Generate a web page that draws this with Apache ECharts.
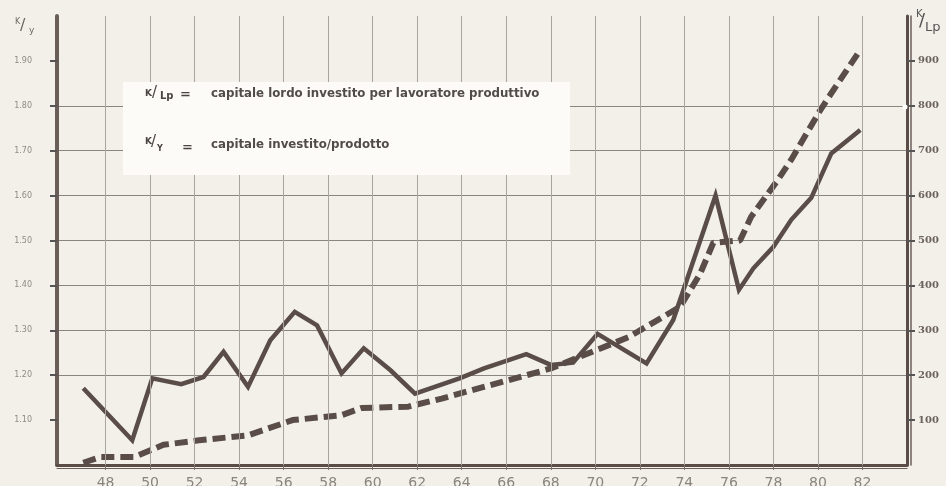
<!DOCTYPE html>
<html><head><meta charset="utf-8">
<script src="https://cdn.jsdelivr.net/npm/echarts@6/dist/echarts.min.js"></script>
<style>html,body{margin:0;padding:0;background:#f3f0ea}#c{width:946px;height:486px}</style>
</head><body><div id="c"></div>
<script>
const kyYears  = [47.0,49.2,50.1,51.4,52.4,53.3,54.4,55.4,56.5,57.5,58.6,59.6,60.8,61.9,63.9,65.0,66.9,68.0,69.0,70.1,72.3,73.5,75.4,76.45,77.1,78.0,78.8,79.7,80.6,81.9];
const kyValues = [1.171,1.055,1.193,1.180,1.196,1.252,1.174,1.278,1.341,1.311,1.204,1.260,1.211,1.159,1.193,1.215,1.247,1.223,1.228,1.292,1.226,1.323,1.600,1.390,1.438,1.486,1.546,1.595,1.694,1.746];
const klpYears  = [47.0,47.8,49.3,50.6,52.2,54.4,56.4,58.6,59.5,61.6,63.1,68.0,70.0,71.5,73.8,74.7,75.3,76.5,77.0,78.2,78.8,80.1,80.6,81.8];
const klpValues = [5,18,18,45,55,66,100,111,127,130,148,215,255,285,352,425,495,500,553,635,680,790,828,917];
const xTicks   = [48,50,52,54,56,58,60,62,64,66,68,70,72,74,76,78,80,82];
const kyTicks  = [1.1,1.2,1.3,1.4,1.5,1.6,1.7,1.8,1.9];
const klpTicks = [100,200,300,400,500,600,700,800,900];
const legendLines = [
  ['K','/','Lp','capitale lordo investito per lavoratore produttivo'],
  ['K','/','Y','capitale investito/prodotto']
];

const ink = '#5a4d48';
const chart = echarts.init(document.getElementById('c'));
const zip = (a,b) => a.map((v,i)=>[v,b[i]]);
const txt = '#4a4542';

const graphics = [
  {type:'rect', z:100, shape:{x:123,y:82,width:447,height:93}, style:{fill:'#fcfbf8'}},
  // legend line 1
  {type:'text', z:101, style:{x:145,y:94,text:legendLines[0][0],fontSize:9,fontFamily:'DejaVu Sans',fontWeight:'bold',fill:txt,verticalAlign:'middle'}},
  {type:'text', z:101, style:{x:152,y:93,text:legendLines[0][1],fontSize:15,fontFamily:'DejaVu Sans',fill:txt,verticalAlign:'middle'}},
  {type:'text', z:101, style:{x:160,y:96,text:legendLines[0][2],fontSize:10,fontFamily:'DejaVu Sans',fontWeight:'bold',fill:txt,verticalAlign:'middle'}},
  {type:'text', z:101, style:{x:180,y:95,text:'=',fontSize:13,fontFamily:'DejaVu Sans',fontWeight:'bold',fill:txt,verticalAlign:'middle'}},
  {type:'text', z:101, style:{x:211,y:94,text:legendLines[0][3],fontSize:11.8,fontFamily:'DejaVu Sans',fontWeight:'bold',fill:'#524c49',verticalAlign:'middle'}},
  // legend line 2
  {type:'text', z:101, style:{x:145,y:142,text:legendLines[1][0],fontSize:9,fontFamily:'DejaVu Sans',fontWeight:'bold',fill:txt,verticalAlign:'middle'}},
  {type:'text', z:101, style:{x:151,y:142,text:legendLines[1][1],fontSize:15,fontFamily:'DejaVu Sans',fill:txt,verticalAlign:'middle'}},
  {type:'text', z:101, style:{x:157,y:149,text:legendLines[1][2],fontSize:8,fontFamily:'DejaVu Sans',fontWeight:'bold',fill:txt,verticalAlign:'middle'}},
  {type:'text', z:101, style:{x:182,y:148,text:'=',fontSize:13,fontFamily:'DejaVu Sans',fontWeight:'bold',fill:txt,verticalAlign:'middle'}},
  {type:'text', z:101, style:{x:211,y:145,text:legendLines[1][3],fontSize:11.8,fontFamily:'DejaVu Sans',fontWeight:'bold',fill:'#524c49',verticalAlign:'middle'}},
  // axis names
  {type:'text', z:101, style:{x:15,y:22,text:'K',fontSize:8,fontFamily:'DejaVu Sans',fill:'#6e6864',verticalAlign:'middle'}},
  {type:'text', z:101, style:{x:20,y:26,text:'/',fontSize:16,fontFamily:'DejaVu Sans',fill:'#6e6864',verticalAlign:'middle'}},
  {type:'text', z:101, style:{x:29,y:31,text:'y',fontSize:9,fontFamily:'DejaVu Sans',fill:'#6e6864',verticalAlign:'middle'}},
  {type:'text', z:101, style:{x:916,y:14,text:'K',fontSize:10,fontFamily:'DejaVu Sans',fill:'#555',verticalAlign:'middle'}},
  {type:'text', z:101, style:{x:919,y:21,text:'/',fontSize:18,fontFamily:'DejaVu Sans',fill:'#555',verticalAlign:'middle'}},
  {type:'text', z:101, style:{x:925,y:28,text:'Lp',fontSize:13,fontFamily:'DejaVu Sans',fill:'#555',verticalAlign:'middle'}},
  {type:'circle', z:101, shape:{cx:905,cy:107,r:2.5}, style:{fill:'#ffffff'}}
];

chart.setOption({
  animation:false,
  backgroundColor:'#f3f0ea',
  grid:{left:57,right:39,top:16,bottom:21,outerBoundsMode:'none',containLabel:false},
  xAxis:[
    {type:'value',min:45.82,max:84,
     axisLine:{show:true,onZero:false,lineStyle:{color:ink,width:3}},
     axisTick:{show:true,customValues:xTicks,length:5,lineStyle:{color:'#7a736e',width:1}},
     axisLabel:{customValues:xTicks,color:'#8a847f',fontSize:14,fontFamily:'DejaVu Sans',margin:11},
     splitLine:{show:false}},
    {type:'value',min:45.82,max:84,position:'bottom',offset:3,
     axisLine:{show:true,onZero:false,lineStyle:{color:'#6a5f5a',width:1}},
     axisTick:{show:false},axisLabel:{show:false},splitLine:{show:false}}
  ],
  yAxis:[
    {type:'value',min:1,max:2,interval:0.1,position:'left',
     axisLine:{show:true,onZero:false,lineStyle:{color:'#6a5e59',width:4}},
     axisTick:{show:true,customValues:kyTicks,length:7,lineStyle:{color:'#555',width:2}},
     axisLabel:{customValues:kyTicks,formatter:v=>Number(v).toFixed(2),fontSize:8,fontFamily:'DejaVu Sans',color:'#8e8984',margin:25},
     splitLine:{show:true,showMinLine:false,showMaxLine:false,lineStyle:{color:'#8a8580',width:1}}},
    {type:'value',min:0,max:1000,interval:100,position:'right',
     axisLine:{show:true,onZero:false,lineStyle:{color:ink,width:3}},
     axisTick:{show:true,customValues:klpTicks,length:8,lineStyle:{color:'#555',width:2}},
     axisLabel:{customValues:klpTicks,fontSize:10,fontWeight:'bold',fontFamily:'DejaVu Serif',color:'#6b625d',margin:11},
     splitLine:{show:false}},
    {type:'value',min:0,max:1000,position:'right',offset:4,
     axisLine:{show:true,onZero:false,lineStyle:{color:'#6a5f5a',width:1.5}},
     axisTick:{show:false},axisLabel:{show:false},splitLine:{show:false}}
  ],
  series:[
    {type:'line',data:[],silent:true,z:1,xAxisIndex:0,yAxisIndex:0,
     markLine:{silent:true,symbol:'none',label:{show:false},animation:false,
       lineStyle:{type:'solid',color:'#aaa49d',width:1},
       data:xTicks.map(v=>({xAxis:v}))}},
    {name:'K/Y',type:'line',xAxisIndex:0,yAxisIndex:0,z:3,symbol:'none',
     data:zip(kyYears,kyValues),
     lineStyle:{color:ink,width:4.5,join:'miter'}},
    {name:'K/Lp',type:'line',xAxisIndex:0,yAxisIndex:1,z:3,symbol:'none',
     data:zip(klpYears,klpValues),
     lineStyle:{color:ink,width:6,type:[13,6],cap:'butt'}}
  ],
  graphic:graphics
});
</script></body></html>
